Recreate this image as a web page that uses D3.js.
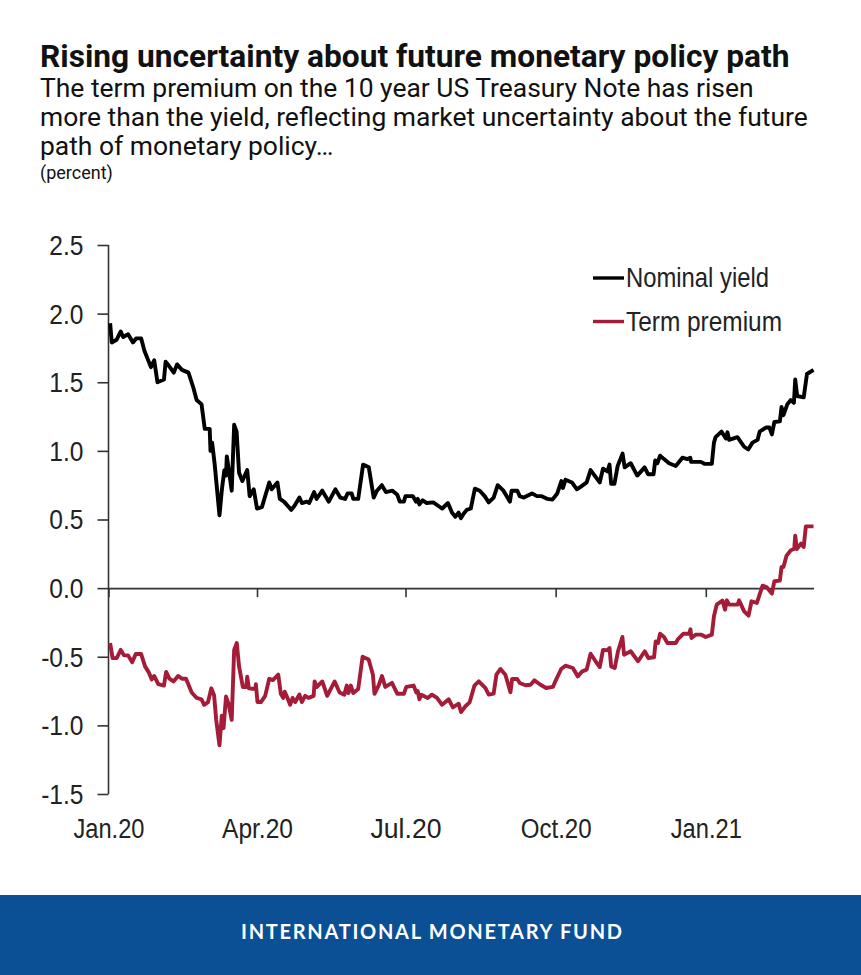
<!DOCTYPE html>
<html>
<head>
<meta charset="utf-8">
<script src="https://cdnjs.cloudflare.com/ajax/libs/d3/7.8.5/d3.min.js"></script>
<style>
    html, body { margin: 0; padding: 0; background: #fff; }
    svg { display: block; }
    .head { font-family: Roboto, sans-serif; fill: #111; }
    .excel { font-family: "Liberation Sans", Arial, sans-serif; fill: #222; }
</style>
</head>
<body>
<svg id="chart" width="861" height="975"></svg>
<script>
// days since 1 Jan 2020
var yieldDays = [1,2,5,7.5,9,12,15,17,20,22,26,28,29,30,34,35,37,40,42,45,49,52,54,57,59,62,62.5,63.5,65,66.5,68,69.5,71,72,72.5,74,75.5,77,78.5,80,82,85,86.5,89,91,94,98.5,100,103.5,105,107.5,112,114,117,118.5,121.5,123,126,127.5,131,135,139,142,145,146.5,149,150,153,156,159.5,162.5,164.5,167.5,170,174,177,178.5,181,182,186.5,188.5,189.5,190.5,192.5,195,199,202,204.5,208,210.5,212.5,214.5,216,217.5,219.5,222,224.5,227.5,230.5,233,236,238.5,242,246,247,250.5,252,254.5,259.5,262.5,265.5,269,272,275,277.5,278.5,280,284,287,289.5,293,295.4,298.5,301,303,305.7,307,308,310,312,315,316.3,320,324,328.5,330.6,334,335,336.3,338,340.4,343.5,347.6,351.7,354.7,356.5,357,363,365.4,369.7,371,372,375.6,378.3,379.3,380.3,385.4,389.5,392,394.6,397.7,399,402.8,405,406.5,408,411.4,412.4,413.6,416,418,420,420.8,422,426,428,432];
var yieldValues = [1.93,1.79,1.81,1.87,1.83,1.85,1.79,1.82,1.82,1.73,1.61,1.66,1.58,1.50,1.52,1.65,1.62,1.57,1.63,1.59,1.57,1.46,1.37,1.34,1.16,1.16,1.00,1.06,0.91,0.72,0.53,0.72,0.86,0.82,0.96,0.84,0.71,1.19,1.14,0.84,0.78,0.86,0.67,0.72,0.58,0.59,0.77,0.72,0.77,0.65,0.63,0.57,0.60,0.66,0.62,0.63,0.62,0.70,0.65,0.71,0.63,0.72,0.66,0.65,0.69,0.69,0.65,0.65,0.90,0.88,0.66,0.71,0.75,0.70,0.71,0.68,0.63,0.63,0.67,0.67,0.63,0.65,0.61,0.64,0.62,0.625,0.60,0.58,0.62,0.55,0.52,0.55,0.51,0.54,0.57,0.58,0.725,0.71,0.67,0.625,0.66,0.75,0.71,0.63,0.71,0.71,0.67,0.66,0.69,0.67,0.67,0.65,0.645,0.69,0.78,0.73,0.79,0.77,0.72,0.74,0.77,0.86,0.81,0.77,0.87,0.85,0.90,0.76,0.76,0.89,0.98,0.88,0.91,0.82,0.88,0.83,0.83,0.93,0.91,0.965,0.94,0.91,0.89,0.95,0.94,0.95,0.92,0.92,0.905,0.905,1.06,1.10,1.14,1.09,1.135,1.08,1.10,1.03,1.01,1.06,1.08,1.14,1.17,1.17,1.12,1.21,1.215,1.32,1.26,1.34,1.37,1.35,1.52,1.40,1.39,1.56,1.59];

var premiumDays = [1,2.5,5,7.5,9.5,12,14.5,16.7,20,22.4,24.5,26.5,28,30.5,34,35.3,37.3,39.8,42.6,45,47.5,51,54,57,58.6,61,63,64.7,66,68,69.4,70.5,72,73.5,75.5,77,78.6,80,82.3,84.4,85,86,90,90.3,91.3,93.4,96,98.5,100.7,104,105.6,107,108,109.3,111.3,112.8,114.4,117,118.5,120.5,122.6,125.7,126.3,127.7,131,134,138.6,141.6,144.5,146,147,148.5,150,153,155.7,159.4,162,163,165.5,167.6,169.6,173.7,177,181,182.5,187,188.6,189.5,190.5,191.7,195.6,198.2,201.3,204.4,208.5,211,214.6,216,218.7,221.3,224.2,226.9,231,233,236,237.7,240.2,243.2,246.3,247.3,250.4,252,255.5,258.6,261,264.7,268.2,272.3,273.5,277.4,280,284.5,287.6,290.3,293,295.4,298.5,301,303,305.7,307,308,310.2,312.2,314.9,315.9,320,324.5,328.6,330.8,334.3,335.3,336.7,338,340.4,342.5,347.6,349,352.3,355.8,356.6,357.2,359.9,363.3,366,369.7,371,372.7,376.2,377.8,378.9,380.3,385.5,386.4,389.5,392.2,394,397.3,400.8,403.2,406.5,408,411.4,412.4,413.6,415.5,418.1,420.2,420.8,421.8,424.3,426,427.3,432];
var premiumValues = [-0.40,-0.51,-0.51,-0.45,-0.49,-0.49,-0.54,-0.48,-0.48,-0.57,-0.61,-0.665,-0.64,-0.70,-0.71,-0.61,-0.66,-0.68,-0.64,-0.66,-0.66,-0.76,-0.80,-0.81,-0.85,-0.83,-0.73,-0.78,-0.96,-1.145,-0.93,-1.02,-0.79,-0.84,-0.96,-0.45,-0.40,-0.57,-0.72,-0.72,-0.645,-0.73,-0.735,-0.70,-0.83,-0.83,-0.785,-0.66,-0.67,-0.63,-0.77,-0.80,-0.755,-0.79,-0.85,-0.80,-0.83,-0.775,-0.83,-0.785,-0.80,-0.785,-0.68,-0.72,-0.68,-0.785,-0.68,-0.76,-0.776,-0.71,-0.765,-0.71,-0.765,-0.735,-0.50,-0.52,-0.63,-0.77,-0.71,-0.64,-0.72,-0.69,-0.77,-0.77,-0.72,-0.71,-0.76,-0.75,-0.81,-0.777,-0.80,-0.776,-0.80,-0.85,-0.81,-0.869,-0.842,-0.903,-0.861,-0.832,-0.711,-0.679,-0.728,-0.776,-0.769,-0.631,-0.589,-0.631,-0.759,-0.662,-0.662,-0.691,-0.708,-0.704,-0.672,-0.704,-0.728,-0.72,-0.687,-0.589,-0.565,-0.582,-0.643,-0.606,-0.594,-0.478,-0.533,-0.575,-0.45,-0.453,-0.436,-0.57,-0.582,-0.46,-0.356,-0.485,-0.46,-0.533,-0.46,-0.509,-0.504,-0.388,-0.40,-0.332,-0.356,-0.40,-0.40,-0.371,-0.332,-0.332,-0.30,-0.363,-0.339,-0.339,-0.356,-0.339,-0.205,-0.12,-0.091,-0.157,-0.089,-0.12,-0.12,-0.089,-0.169,-0.20,-0.096,-0.108,0.018,0.008,-0.04,0.05,0.055,0.154,0.154,0.237,0.276,0.285,0.382,0.285,0.324,0.30,0.45,0.45];

var seriesNames = ["Nominal yield", "Term premium"];
var seriesColors = ["#000000", "#a51c38"];
var yTicks = [-1.5, -1, -0.5, 0, 0.5, 1, 1.5, 2, 2.5];
var xTicks = [new Date(2020, 0, 1), new Date(2020, 3, 1), new Date(2020, 6, 1), new Date(2020, 9, 1), new Date(2021, 0, 1)];
var xLabels = ["Jan.20", "Apr.20", "Jul.20", "Oct.20", "Jan.21"];

var titleText = "Rising uncertainty about future monetary policy path";
var subtitleLines = [
    "The term premium on the 10 year US Treasury Note has risen",
    "more than the yield, reflecting market uncertainty about the future",
    "path of monetary policy\u2026"
];

var start = new Date(2020, 0, 1);
var svg = d3.select("#chart");

function dayToDate(d) {
    return new Date(start.getTime() + d * 864e5);
}

var x = d3.scaleTime()
    .domain([start, dayToDate(432)])
    .range([108.5, 813.5]);

var y = d3.scaleLinear()
    .domain([-1.5, 2.5])
    .range([794, 245]);

// heading
svg.append("text").attr("class", "head")
    .attr("x", 40).attr("y", 67)
    .style("font-size", "31.7px").style("font-weight", 700)
    .text(titleText);

svg.selectAll("text.sub")
    .data(subtitleLines)
    .enter().append("text")
    .attr("class", "head sub")
    .attr("x", 40)
    .attr("y", (d, i) => 97 + i * 28.8)
    .style("font-size", "26.45px")
    .text(d => d);

svg.append("text").attr("class", "head")
    .attr("x", 40).attr("y", 179)
    .style("font-size", "18px")
    .text("(percent)");

// axes
var yAxis = d3.axisLeft(y)
    .tickValues(yTicks)
    .tickSize(11)
    .tickFormat(d3.format(".1f"));

var yG = svg.append("g")
    .attr("transform", "translate(108.5,0)")
    .call(yAxis);

yG.select(".domain").attr("d", `M0,${y(2.5)}V${y(-1.5)}`);
yG.selectAll("text")
    .attr("class", "excel")
    .attr("x", -27.5)
    .attr("dy", "0.35em")
    .attr("transform", "scale(0.91,1)")
    .style("font-size", "27px")
    .style("font-family", "'Liberation Sans', Arial, sans-serif")
    .text(d => d3.format(".1f")(d).replace("\u2212", "-"));

var xAxis = d3.axisBottom(x)
    .tickValues(xTicks)
    .tickSize(9)
    .tickSizeOuter(0)
    .tickFormat((d, i) => xLabels[i]);

var xG = svg.append("g")
    .attr("transform", `translate(0,${y(0)})`)
    .call(xAxis);

xG.selectAll("text")
    .attr("class", "excel")
    .attr("y", 838 - y(0))
    .attr("dy", 0)
    .style("font-size", "27px")
    .style("font-family", "'Liberation Sans', Arial, sans-serif")
    .attr("textLength", 71)
    .attr("lengthAdjust", "spacingAndGlyphs");

svg.selectAll(".domain, .tick line")
    .attr("stroke", "#333")
    .attr("stroke-width", 1.6);

// lines
var line = d3.line()
    .x(d => x(dayToDate(d[0])))
    .y(d => y(d[1]))
    .curve(d3.curveLinear);

svg.append("path")
    .datum(d3.zip(yieldDays, yieldValues))
    .attr("fill", "none")
    .attr("stroke", seriesColors[0])
    .attr("stroke-width", 3.9)
    .attr("stroke-linejoin", "round")
    .attr("d", line);

svg.append("path")
    .datum(d3.zip(premiumDays, premiumValues))
    .attr("fill", "none")
    .attr("stroke", seriesColors[1])
    .attr("stroke-width", 3.9)
    .attr("stroke-linejoin", "round")
    .attr("d", line);

// legend
var legend = svg.selectAll("g.legend")
    .data(seriesNames)
    .enter().append("g")
    .attr("class", "legend")
    .attr("transform", (d, i) => `translate(593,${278 + i * 43.5})`);

legend.append("line")
    .attr("x1", 0).attr("x2", 31)
    .attr("stroke", (d, i) => seriesColors[i])
    .attr("stroke-width", 3.4);

legend.append("text")
    .attr("class", "excel")
    .attr("x", 33).attr("y", 9)
    .style("font-size", "27.5px")
    .attr("textLength", (d, i) => i == 0 ? 143 : 156)
    .attr("lengthAdjust", "spacingAndGlyphs")
    .text(d => d);

// footer band
svg.append("rect")
    .attr("x", 0).attr("y", 895)
    .attr("width", 861).attr("height", 80)
    .attr("fill", "#0b4f95");

svg.append("text")
    .attr("x", 241).attr("y", 939)
    .attr("fill", "#fff")
    .style("font-family", "Lato, sans-serif")
    .style("font-weight", 700)
    .style("font-size", "20px")
    .attr("textLength", 381)
    .text("INTERNATIONAL MONETARY FUND");
</script>
</body>
</html>
